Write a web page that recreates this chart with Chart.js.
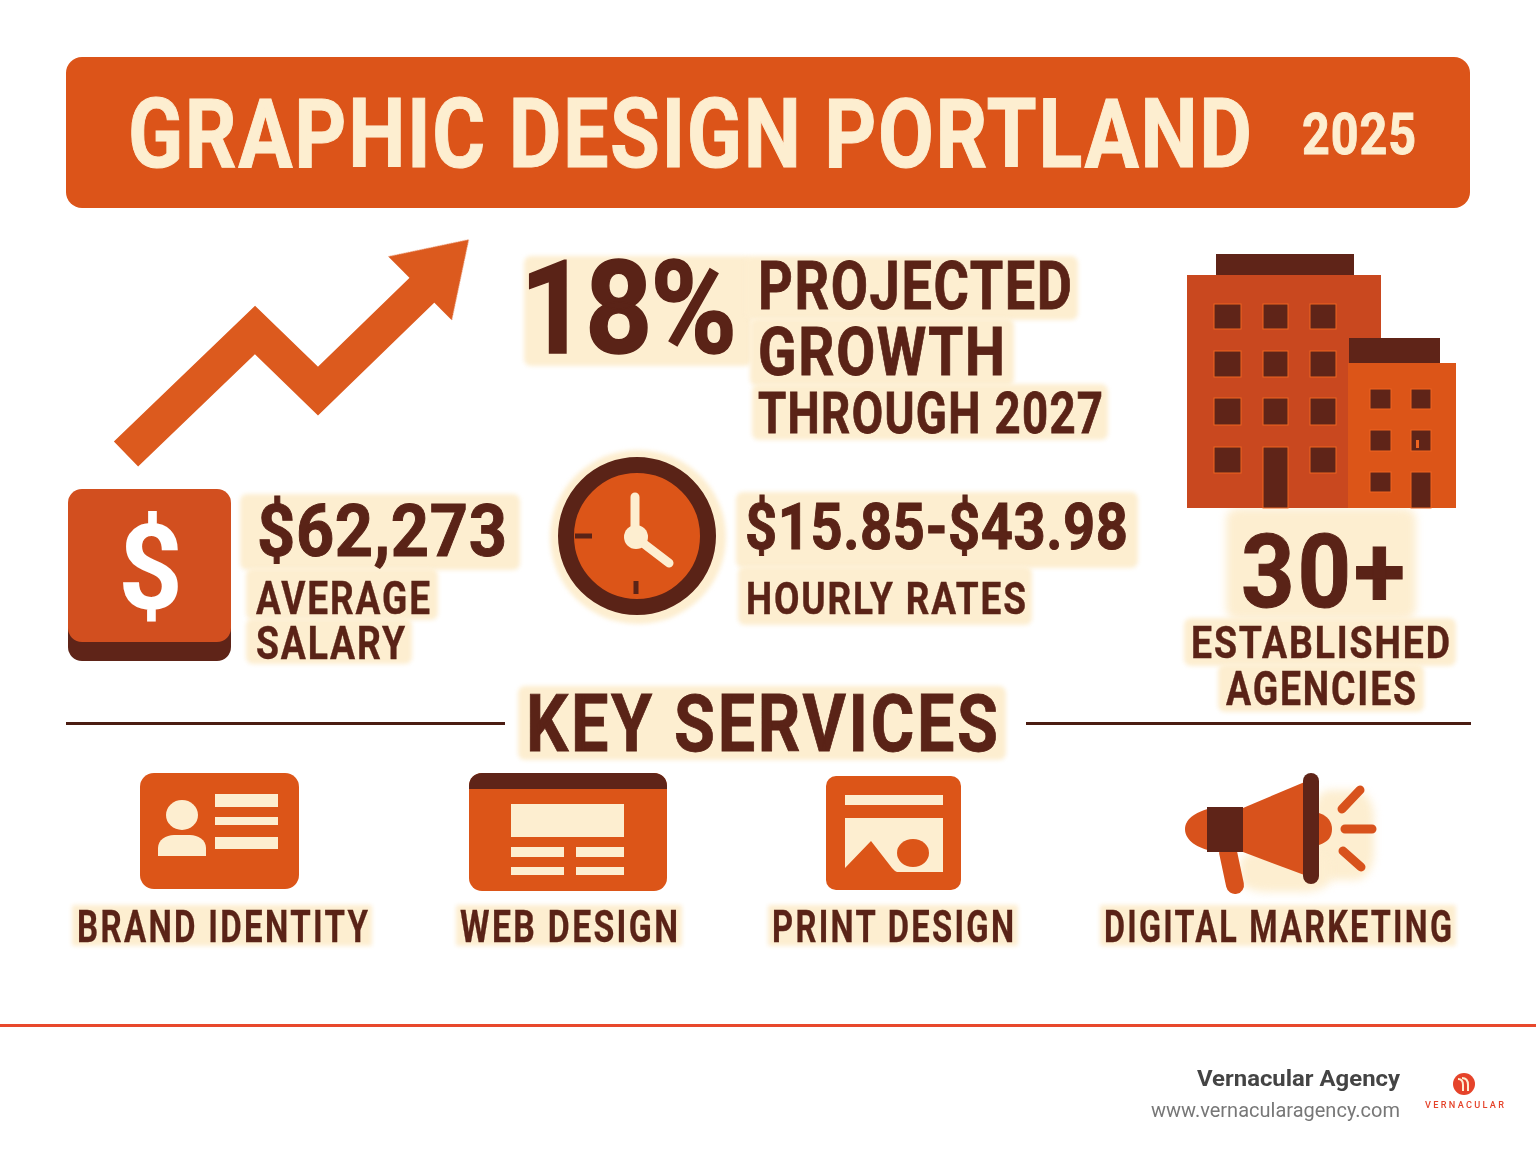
<!DOCTYPE html>
<html>
<head>
<meta charset="utf-8">
<title>Graphic Design Portland 2025</title>
<script src="https://cdn.jsdelivr.net/npm/chart.js@4"></script>
<style>
	html, body { margin: 0; padding: 0; background: #fff; }
	#page { position: relative; width: 1536px; height: 1154px; overflow: hidden; background: #fff; font-family: Roboto, sans-serif; }
	#banner { position: absolute; left: 66px; top: 57px; width: 1404px; height: 151px; border-radius: 16px; background: #dc5419; }
	#arrowBox { position: absolute; left: 90px; top: 220px; width: 400px; height: 260px; z-index: 2; }
	#icons { position: absolute; left: 0; top: 0; z-index: 2; }
	.blob { position: absolute; background: #fdeed0; border-radius: 7px; filter: blur(2px); z-index: 1; }
	.txt { position: absolute; white-space: nowrap; transform-origin: 0 0; font-weight: 700; z-index: 3; }
	.rule { position: absolute; background: #4a1c12; height: 3px; top: 722px; }
	#footerLine { position: absolute; left: 0; top: 1024px; width: 1536px; height: 3px; background: #e8482c; }
</style>
</head>
<body>
<div id="page">
	<div id="banner"></div>
	<div class="rule" style="left:66px;width:439px"></div>
	<div class="rule" style="left:1026px;width:445px"></div>
	<div id="footerLine"></div>
	<div id="arrowBox"><canvas id="growthChart" width="400" height="260"></canvas></div>

	<svg id="icons" width="1536" height="1154" viewBox="0 0 1536 1154">
		<!-- salary key -->
		<rect x="68" y="520" width="163" height="141" rx="14" fill="#5f2418"/>
		<rect x="68" y="489" width="163" height="153" rx="14" fill="#d24f1f"/>

		<!-- clock -->
		<circle cx="637" cy="536" r="71" fill="#dc5518" stroke="#5a2317" stroke-width="16"/>
		<path d="M635 497V537L669 563" fill="none" stroke="#fdeed0" stroke-width="9" stroke-linecap="round" stroke-linejoin="round"/>
		<circle cx="636" cy="537" r="12" fill="#fdeed0"/>
		<path d="M575 536H592M636 581V594" stroke="#5a2317" stroke-width="5"/>

		<!-- buildings -->
		<rect x="1216" y="254" width="138" height="21" fill="#5f2418"/>
		<rect x="1187" y="275" width="194" height="233" fill="#c9481f"/>
		<g fill="#5f2418" stroke="#ef6420" stroke-width="1">
			<rect x="1214" y="304" width="27" height="25"/><rect x="1263" y="304" width="25" height="25"/><rect x="1310" y="304" width="26" height="25"/>
			<rect x="1214" y="351" width="27" height="26"/><rect x="1263" y="351" width="25" height="26"/><rect x="1310" y="351" width="26" height="26"/>
			<rect x="1214" y="398" width="27" height="27"/><rect x="1263" y="398" width="25" height="27"/><rect x="1310" y="398" width="26" height="27"/>
			<rect x="1214" y="447" width="27" height="26"/><rect x="1263" y="447" width="25" height="61"/><rect x="1310" y="447" width="26" height="26"/>
		</g>
		<rect x="1349" y="338" width="91" height="25" fill="#5f2418"/>
		<rect x="1348" y="363" width="108" height="145" fill="#dc5518"/>
		<g fill="#5f2418" stroke="#ef6420" stroke-width="1">
			<rect x="1370" y="389" width="21" height="20"/><rect x="1411" y="389" width="20" height="20"/>
			<rect x="1370" y="430" width="21" height="21"/><rect x="1411" y="430" width="20" height="21"/>
			<rect x="1370" y="472" width="21" height="20"/><rect x="1411" y="472" width="20" height="36"/>
		</g>
		<rect x="1416" y="440" width="3" height="8" fill="#ef6420"/>

		<!-- brand identity card -->
		<rect x="140" y="773" width="159" height="116" rx="14" fill="#dc5518"/>
		<g fill="#fdeed0">
			<rect x="215" y="794" width="63" height="13"/>
			<rect x="215" y="817" width="63" height="8"/>
			<rect x="215" y="837" width="63" height="12"/>
			<ellipse cx="182" cy="815" rx="16" ry="15"/>
			<path d="M158 856V848C158 840 166 835 174 835H190C198 835 206 840 206 848V856Z"/>
		</g>

		<!-- web design card -->
		<rect x="469" y="773" width="198" height="118" rx="13" fill="#dc5518"/>
		<path d="M469 789V786C469 778 475 773 482 773H654C661 773 667 778 667 786V789Z" fill="#5f2418"/>
		<g fill="#fdeed0">
			<rect x="511" y="804" width="113" height="33"/>
			<rect x="511" y="847" width="53" height="10"/><rect x="576" y="847" width="48" height="10"/>
			<rect x="511" y="867" width="53" height="8"/><rect x="576" y="867" width="48" height="8"/>
		</g>

		<!-- print design card -->
		<rect x="826" y="776" width="135" height="114" rx="10" fill="#dc5518"/>
		<g fill="#fdeed0">
			<rect x="845" y="795" width="98" height="10"/>
			<rect x="845" y="818" width="98" height="54"/>
		</g>
		<path d="M845 868L871 841L892 868Q895 872 899 873H845Z" fill="#dc5518"/>
		<ellipse cx="913" cy="853" rx="16" ry="14" fill="#dc5518"/>

		<!-- megaphone -->
		<path d="M1243 808L1307 781V876L1243 852Z" fill="#d8521c"/>
		<path d="M1212 808C1198 811 1185 818 1185 829C1185 841 1198 848 1212 851Z" fill="#d8521c"/>
		<path d="M1319 813C1328 816 1332 822 1332 829C1332 837 1328 842 1319 845Z" fill="#d8521c"/>
		<path d="M1228 852L1235 885" stroke="#d8521c" stroke-width="18" stroke-linecap="round"/>
		<rect x="1207" y="807" width="36" height="45" fill="#5f2418"/>
		<rect x="1303" y="773" width="16" height="111" rx="8" fill="#5f2418"/>
		<path d="M1360 790L1342 809M1345 829H1372M1343 851L1361 867" stroke="#d8521c" stroke-width="9" stroke-linecap="round"/>

		<!-- vernacular logo -->
		<circle cx="1464" cy="1084" r="11" fill="#e5432a"/>
		<path d="M1458 1079Q1463 1079 1463 1085V1091M1462 1078Q1468 1078 1468 1085V1091" fill="none" stroke="#fdeed0" stroke-width="2"/>
	</svg>
</div>

<script>
//text of the infographic
const titleText = "GRAPHIC DESIGN PORTLAND";
const yearText = "2025";
const growthValue = "18%";
const growthLabels = ["PROJECTED", "GROWTH", "THROUGH 2027"];
const salaryValue = "$62,273";
const salaryLabels = ["AVERAGE", "SALARY"];
const hourlyValue = "$15.85-$43.98";
const hourlyLabel = "HOURLY RATES";
const agencyValue = "30+";
const agencyLabels = ["ESTABLISHED", "AGENCIES"];
const sectionTitle = "KEY SERVICES";
const serviceLabels = ["BRAND IDENTITY", "WEB DESIGN", "PRINT DESIGN", "DIGITAL MARKETING"];
const footerName = "Vernacular Agency";
const footerUrl = "www.vernacularagency.com";
const logoText = "VERNACULAR";

//growth arrow (0-100 on both axes)
const growthX = [9, 41.25, 57, 85];
const growthY = [10, 57.7, 34.2, 76];
const arrowHeadX = [88.6];
const arrowHeadY = [83.1];

const BROWN = "#5a2317";
const CREAM = "#fdeed0";
const ORANGE = "#dc5a1e";

const page = document.getElementById("page");

//put one text on the page so its capitals fill x0-x1, capTop-capBottom
function placeText(text, x0, x1, capTop, capBottom, color, opts = {}) {
	const size = (capBottom - capTop) / 0.711;
	const ls = (opts.ls || 0) * size;
	const el = document.createElement("div");
	el.className = "txt";
	el.textContent = text;
	el.style.fontSize = size + "px";
	el.style.lineHeight = (0.8 * size) + "px";
	el.style.letterSpacing = ls + "px";
	el.style.color = color;
	el.style.left = x0 + "px";
	el.style.top = (capBottom - 0.741 * size) + "px";
	if (opts.weight) el.style.fontWeight = opts.weight;
	if (opts.stroke) el.style.webkitTextStroke = opts.stroke + "px " + color;
	page.appendChild(el);
	const w = el.getBoundingClientRect().width - ls;
	el.style.transform = "scaleX(" + (x1 - x0) / w + ")";
	return el;
}

function addBlob(x0, y0, x1, y1, radius, blur) {
	const b = document.createElement("div");
	b.className = "blob";
	b.style.left = x0 + "px";
	b.style.top = y0 + "px";
	b.style.width = (x1 - x0) + "px";
	b.style.height = (y1 - y0) + "px";
	if (radius) b.style.borderRadius = radius;
	if (blur) b.style.filter = "blur(" + blur + "px)";
	page.appendChild(b);
}

//cream patches behind the dark text
addBlob(524, 256, 752, 366);
addBlob(745, 256, 1078, 320);
addBlob(750, 318, 1014, 386);
addBlob(752, 384, 1108, 440);
addBlob(240, 494, 520, 570);
addBlob(246, 568, 438, 620);
addBlob(246, 618, 412, 664);
addBlob(550, 450, 726, 624, "50%");
addBlob(736, 492, 1138, 568);
addBlob(738, 566, 1032, 625);
addBlob(1226, 508, 1416, 620, "12px", 4);
addBlob(1184, 618, 1456, 666);
addBlob(1218, 664, 1424, 712);
addBlob(518, 686, 1006, 760);
addBlob(72, 905, 372, 946, "2px");
addBlob(456, 905, 682, 946, "2px");
addBlob(768, 905, 1018, 946, "2px");
addBlob(1100, 905, 1456, 946, "2px");
addBlob(1312, 790, 1374, 880, "30%", 4);
addBlob(1240, 850, 1330, 892, "30%", 4);

placeText(titleText, 128, 1252, 99, 167, CREAM, { stroke: 1, ls: 0.02 });
placeText(yearText, 1302, 1416, 114, 155, CREAM, { stroke: 1, ls: 0.02 });

placeText(growthValue, 520, 737, 262, 354, BROWN, { stroke: 1.5, ls: -0.02 });
placeText(growthLabels[0], 758, 1072, 263, 310, BROWN, { stroke: 0.8, ls: 0.03 });
placeText(growthLabels[1], 758, 1005, 327, 375, BROWN, { stroke: 0.8, ls: 0.03 });
placeText(growthLabels[2], 758, 1103, 393, 434, BROWN, { stroke: 0.8, ls: 0.03 });

placeText("$", 118, 183, 526, 610, "#fff");

placeText(salaryValue, 257, 507, 504, 556, BROWN, { stroke: 1, ls: 0.01 });
placeText(salaryLabels[0], 256, 430, 581, 614, BROWN, { stroke: 0.4, ls: 0.05 });
placeText(salaryLabels[1], 256, 405, 626, 659, BROWN, { stroke: 0.4, ls: 0.05 });

placeText(hourlyValue, 745, 1128, 504, 550, BROWN, { stroke: 1, ls: 0.01 });
placeText(hourlyLabel, 746, 1026, 582, 614, BROWN, { stroke: 0.4, ls: 0.05 });

placeText(agencyValue, 1241, 1405, 535, 607, BROWN, { stroke: 1, ls: 0.03 });
placeText(agencyLabels[0], 1191, 1450, 626, 658, BROWN, { stroke: 0.4, ls: 0.05 });
placeText(agencyLabels[1], 1226, 1416, 671, 705, BROWN, { stroke: 0.4, ls: 0.05 });

placeText(sectionTitle, 526, 998, 695, 751, BROWN, { stroke: 0.8, ls: 0.04 });

placeText(serviceLabels[0], 77, 368, 910, 942, BROWN, { stroke: 0.3, ls: 0.07 });
placeText(serviceLabels[1], 460, 678, 910, 942, BROWN, { stroke: 0.3, ls: 0.07 });
placeText(serviceLabels[2], 772, 1014, 910, 942, BROWN, { stroke: 0.3, ls: 0.07 });
placeText(serviceLabels[3], 1104, 1452, 910, 942, BROWN, { stroke: 0.3, ls: 0.07 });

placeText(footerName, 1197, 1400, 1070, 1086, "#444444");
placeText(footerUrl, 1151, 1400, 1104, 1118, "#777777", { weight: 400 });
placeText(logoText, 1425, 1504, 1101, 1108, "#e5432a", { ls: 0.25, weight: 500 });

document.addEventListener("DOMContentLoaded", () => {

	//the head of the arrow, used as the point style of the last point
	const head = document.createElement("canvas");
	head.width = 90;
	head.height = 69;
	const hctx = head.getContext("2d");
	hctx.fillStyle = ORANGE;
	hctx.beginPath();
	hctx.moveTo(45, 0);
	hctx.lineTo(90, 69);
	hctx.lineTo(0, 69);
	hctx.closePath();
	hctx.fill();

	window.growthChart = new Chart(document.getElementById("growthChart"), {
		type: "scatter",
		data: {
			datasets: [
				{
					data: growthX.map((x, i) => ({ x: x, y: growthY[i] })),
					showLine: true,
					borderColor: ORANGE,
					borderWidth: 35,
					borderJoinStyle: "miter",
					borderCapStyle: "butt",
					pointRadius: 0,
					tension: 0,
					clip: false
				},
				{
					data: arrowHeadX.map((x, i) => ({ x: x, y: arrowHeadY[i] })),
					showLine: false,
					pointStyle: head,
					rotation: 45,
					clip: false
				}
			]
		},
		options: {
			responsive: false,
			animation: false,
			layout: { padding: 0, autoPadding: false },
			plugins: {
				legend: { display: false },
				title: { display: false },
				tooltip: { enabled: false }
			},
			scales: {
				x: { type: "linear", display: false, min: 0, max: 100 },
				y: { type: "linear", display: false, min: 0, max: 100 }
			}
		}
	});
});
</script>
</body>
</html>
